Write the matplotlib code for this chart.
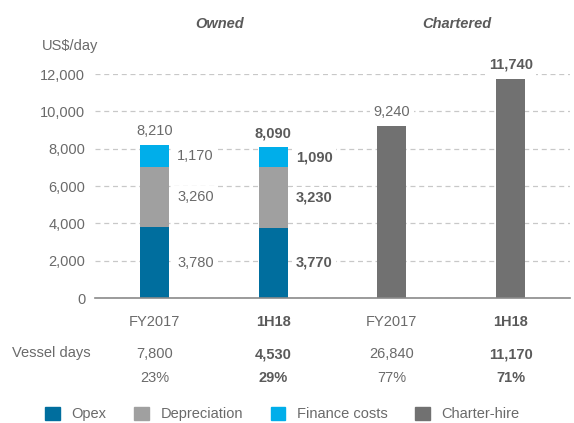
import numpy as np
import matplotlib.pyplot as plt
from matplotlib.patches import Patch

plt.rcParams['font.family'] = ['Liberation Sans', 'DejaVu Sans']

periods = ['FY2017', '1H18', 'FY2017', '1H18']
bold = [False, True, False, True]
opex = [3780, 3770, 0, 0]
depreciation = [3260, 3230, 0, 0]
finance = [1170, 1090, 0, 0]
charter = [0, 0, 9240, 11740]
totals = [8210, 8090, 9240, 11740]
vessel_days = ['7,800', '4,530', '26,840', '11,170']
shares = ['23%', '29%', '77%', '71%']
groups = ['Owned', 'Chartered']

c_opex = '#006E9E'
c_dep = '#A0A0A0'
c_fin = '#00AEEA'
c_chr = '#717171'
txt = '#6A6A6A'
txt_b = '#5A5A5A'

fig = plt.figure(figsize=(5.74, 4.23), dpi=100)
ax = fig.add_axes([95 / 574, 1 - 298 / 423, 475 / 574, 224 / 423])

x = np.arange(len(periods))
w = 0.245
own = x[:2]
ax.bar(own, opex[:2], w, color=c_opex, zorder=3)
ax.bar(own, depreciation[:2], w, bottom=opex[:2], color=c_dep, zorder=3)
ax.bar(own, finance[:2], w, bottom=np.add(opex[:2], depreciation[:2]), color=c_fin, zorder=3)
ax.bar(x[2:], charter[2:], w, color=c_chr, zorder=3)

ax.set_xlim(-0.5, 3.5)
ax.set_ylim(0, 12000)
ax.set_yticks(range(0, 12001, 2000))
ax.set_yticklabels([f'{v:,}' for v in range(0, 12001, 2000)], fontsize=10.5, color=txt)
ax.tick_params(axis='y', length=0, pad=7)
ax.tick_params(axis='x', length=0, pad=12)
ax.set_xticks(x)
ax.set_xticklabels(periods, fontsize=10.5)
for lab, b in zip(ax.get_xticklabels(), bold):
    lab.set_fontweight('bold' if b else 'normal')
    lab.set_color(txt_b if b else txt)

ax.grid(axis='y', color='#C8C8C8', linestyle=(0, (4, 3)), linewidth=0.9, zorder=0)
for s in ['top', 'right', 'left']:
    ax.spines[s].set_visible(False)
ax.spines['bottom'].set_color('#8A8A8A')
ax.spines['bottom'].set_linewidth(1.2)
ax.spines['bottom'].set_zorder(4)

box = dict(boxstyle='square,pad=0.25', fc='white', ec='none')

# segment labels
for i in range(2):
    fw = 'bold' if bold[i] else 'normal'
    col = txt_b if bold[i] else txt
    segs = [(opex[i], 0), (depreciation[i], opex[i]), (finance[i], opex[i] + depreciation[i])]
    for val, base in segs:
        ax.annotate(f'{val:,}', (x[i] + w / 2, base + val / 2), xytext=(6, 0),
                    textcoords='offset points', ha='left', va='center',
                    fontsize=10.5, fontweight=fw, color=col, bbox=box, zorder=2)

# totals
for i in range(4):
    fw = 'bold' if bold[i] else 'normal'
    col = txt_b if bold[i] else txt
    ax.annotate(f'{totals[i]:,}', (x[i], totals[i]), xytext=(0, 5),
                textcoords='offset points', ha='center', va='bottom',
                fontsize=10.5, fontweight=fw, color=col, bbox=box, zorder=2)

# group titles
for gx, g in zip([0.55, 2.55], groups):
    ax.text(gx, 1.225, g, transform=ax.get_xaxis_transform(), ha='center', va='center',
            fontsize=10.5, fontweight='bold', fontstyle='italic', color=txt_b)

fig.text(42 / 574, 1 - 46 / 423, 'US$/day', ha='left', va='center', fontsize=10.5, color=txt)

# vessel days table
fig.text(12 / 574, 1 - 353 / 423, 'Vessel days', ha='left', va='center', fontsize=10.5, color=txt)
tr = ax.get_xaxis_transform()
for i in range(4):
    fw = 'bold' if bold[i] else 'normal'
    col = txt_b if bold[i] else txt
    ax.text(x[i], -56 / 224, vessel_days[i], transform=tr, ha='center', va='center',
            fontsize=10.5, fontweight=fw, color=col)
    ax.text(x[i], -80 / 224, shares[i], transform=tr, ha='center', va='center',
            fontsize=10.5, fontweight=fw, color=col)

handles = [Patch(color=c_opex, label='Opex'), Patch(color=c_dep, label='Depreciation'),
           Patch(color=c_fin, label='Finance costs'), Patch(color=c_chr, label='Charter-hire')]
leg = fig.legend(handles=handles, loc='center', bbox_to_anchor=(0.492, 1 - 414 / 423), ncol=4,
                 frameon=False, fontsize=10.5, handlelength=1.0, handleheight=1.0,
                 columnspacing=1.9, handletextpad=0.8)
for t in leg.get_texts():
    t.set_color(txt)

fig.savefig('out.png', dpi=100)
